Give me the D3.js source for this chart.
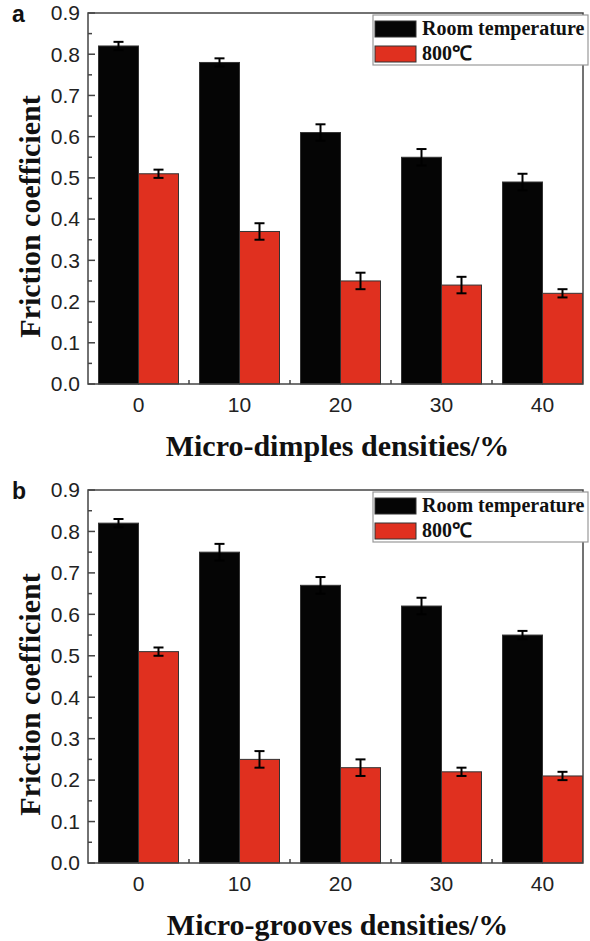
<!DOCTYPE html>
<html>
<head>
<meta charset="utf-8">
<script src="https://cdn.jsdelivr.net/npm/d3@7"></script>
<style>
    body { margin: 0; background: #fff; }
    .tick-label { font-family: "Liberation Sans", Arial, sans-serif; font-size: 21px; fill: #222; }
    .axis-title { font-family: "Liberation Serif", "Times New Roman", serif; font-size: 30px; font-weight: bold; fill: #111; }
    .legend-text { font-family: "Liberation Serif", "Times New Roman", serif; font-size: 20px; font-weight: bold; fill: #111; }
    .panel-label { font-family: "Liberation Sans", Arial, sans-serif; font-size: 23px; font-weight: bold; fill: #111; }
</style>
</head>
<body>
<div id="chart"></div>
<script>
// ---- data ----
const densities = [0, 10, 20, 30, 40];
const seriesNames = ["Room temperature", "800℃"];
const seriesColors = ["#050505", "#e0301f"];

// (a) micro-dimples
const dimplesRoom    = [0.82, 0.78, 0.61, 0.55, 0.49];
const dimplesRoomErr = [0.01, 0.01, 0.02, 0.02, 0.02];
const dimplesHot     = [0.51, 0.37, 0.25, 0.24, 0.22];
const dimplesHotErr  = [0.01, 0.02, 0.02, 0.02, 0.01];

// (b) micro-grooves
const groovesRoom    = [0.82, 0.75, 0.67, 0.62, 0.55];
const groovesRoomErr = [0.01, 0.02, 0.02, 0.02, 0.01];
const groovesHot     = [0.51, 0.25, 0.23, 0.22, 0.21];
const groovesHotErr  = [0.01, 0.02, 0.02, 0.01, 0.01];

const yTickValues = [0.0, 0.1, 0.2, 0.3, 0.4, 0.5, 0.6, 0.7, 0.8, 0.9];
const yMinorValues = [0.05, 0.15, 0.25, 0.35, 0.45, 0.55, 0.65, 0.75, 0.85];

const svg = d3.select("#chart").append("svg")
    .attr("width", 590)
    .attr("height", 941);

function drawPanel(opts) {
    let margin = {left: 88, right: 7};
    let width = 590 - margin.left - margin.right;
    let height = opts.height;

    let g = svg.append("g")
        .attr("transform", "translate(" + margin.left + "," + opts.top + ")");

    // scales -- last group in the original touches the right frame, so the band range runs a bit past it
    let x = d3.scaleBand()
        .domain(densities)
        .range([0, width + 10]);
    let xInner = d3.scaleBand()
        .domain(seriesNames)
        .range([0, 80]);
    let groupPad = (x.bandwidth() - 80) / 2;
    let y = d3.scaleLinear()
        .domain([0, 0.9])
        .range([height, 0]);

    let rows = densities.map((d, i) => ({
        density: d,
        values: [
            {name: seriesNames[0], value: opts.room[i], err: opts.roomErr[i], color: seriesColors[0]},
            {name: seriesNames[1], value: opts.hot[i], err: opts.hotErr[i], color: seriesColors[1]}
        ]
    }));

    // bars
    let groups = g.selectAll(".group")
        .data(rows)
        .enter().append("g")
        .attr("class", "group")
        .attr("transform", d => "translate(" + (x(d.density) + groupPad) + ",0)");

    groups.selectAll("rect")
        .data(d => d.values)
        .enter().append("rect")
        .attr("x", d => xInner(d.name))
        .attr("width", xInner.bandwidth())
        .attr("y", d => y(d.value))
        .attr("height", d => height - y(d.value))
        .attr("fill", d => d.color)
        .attr("stroke", "#333")
        .attr("stroke-width", 1);

    // error bars
    let errs = groups.selectAll(".err")
        .data(d => d.values)
        .enter().append("g")
        .attr("class", "err")
        .attr("transform", d => "translate(" + (xInner(d.name) + xInner.bandwidth() / 2) + ",0)")
        .attr("stroke", "#000")
        .attr("stroke-width", 2);
    errs.append("line")
        .attr("y1", d => y(d.value - d.err))
        .attr("y2", d => y(d.value + d.err));
    errs.append("line")
        .attr("x1", -5).attr("x2", 5)
        .attr("y1", d => y(d.value + d.err))
        .attr("y2", d => y(d.value + d.err));
    errs.append("line")
        .attr("x1", -5).attr("x2", 5)
        .attr("y1", d => y(d.value - d.err))
        .attr("y2", d => y(d.value - d.err));

    // frame
    g.append("rect")
        .attr("width", width)
        .attr("height", height)
        .attr("fill", "none")
        .attr("stroke", "#444")
        .attr("stroke-width", 1.5);

    // y axis ticks (inward) + labels
    g.selectAll(".ytick")
        .data(yTickValues)
        .enter().append("line")
        .attr("x1", 0).attr("x2", 7)
        .attr("y1", d => y(d)).attr("y2", d => y(d))
        .attr("stroke", "#444").attr("stroke-width", 1.5);
    g.selectAll(".yminor")
        .data(yMinorValues)
        .enter().append("line")
        .attr("x1", 0).attr("x2", 4)
        .attr("y1", d => y(d)).attr("y2", d => y(d))
        .attr("stroke", "#444").attr("stroke-width", 1.5);
    g.selectAll(".ylabel")
        .data(yTickValues)
        .enter().append("text")
        .attr("class", "tick-label")
        .attr("x", -8)
        .attr("y", d => y(d))
        .attr("dy", "0.35em")
        .attr("text-anchor", "end")
        .text(d => d3.format(".1f")(d));

    // x ticks sit on the group boundaries
    g.selectAll(".xtick")
        .data(densities.slice(1))
        .enter().append("line")
        .attr("x1", d => x(d)).attr("x2", d => x(d))
        .attr("y1", height).attr("y2", height - 4)
        .attr("stroke", "#444").attr("stroke-width", 1.5);
    g.selectAll(".xlabel")
        .data(densities)
        .enter().append("text")
        .attr("class", "tick-label")
        .attr("x", d => x(d) + x.bandwidth() / 2)
        .attr("y", height + 28)
        .attr("text-anchor", "middle")
        .text(d => d);

    // axis titles
    g.append("text")
        .attr("class", "axis-title")
        .attr("x", width / 2 + 2)
        .attr("y", height + 72)
        .attr("text-anchor", "middle")
        .text(opts.xTitle);
    g.append("text")
        .attr("class", "axis-title")
        .attr("transform", "translate(" + (40 - margin.left) + "," + (height / 2 + 18) + ") rotate(-90)")
        .attr("text-anchor", "middle")
        .text("Friction coefficient");

    // panel letter
    svg.append("text")
        .attr("class", "panel-label")
        .attr("x", 12)
        .attr("y", opts.top + 9)
        .text(opts.label);

    // legend
    let legend = g.append("g")
        .attr("transform", "translate(" + (width - 210) + ",2)");
    legend.append("rect")
        .attr("width", 215)
        .attr("height", 50)
        .attr("fill", "#fff")
        .attr("stroke", "#999")
        .attr("stroke-width", 1.2);
    seriesNames.forEach((name, i) => {
        legend.append("rect")
            .attr("x", 2)
            .attr("y", 6 + i * 25)
            .attr("width", 41)
            .attr("height", 16)
            .attr("fill", seriesColors[i])
            .attr("stroke", "#333")
            .attr("stroke-width", 1);
        legend.append("text")
            .attr("class", "legend-text")
            .attr("x", 49)
            .attr("y", 20 + i * 25)
            .text(name);
    });
}

drawPanel({
    label: "a", top: 13, height: 371,
    room: dimplesRoom, roomErr: dimplesRoomErr,
    hot: dimplesHot, hotErr: dimplesHotErr,
    xTitle: "Micro-dimples densities/%"
});

drawPanel({
    label: "b", top: 490, height: 373,
    room: groovesRoom, roomErr: groovesRoomErr,
    hot: groovesHot, hotErr: groovesHotErr,
    xTitle: "Micro-grooves densities/%"
});
</script>
</body>
</html>
